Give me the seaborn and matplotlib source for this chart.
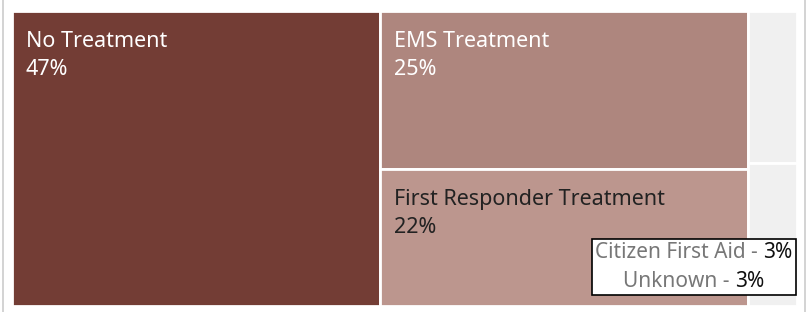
import matplotlib
matplotlib.use("Agg")
import matplotlib.pyplot as plt
import matplotlib.patches as mpatches
from matplotlib.offsetbox import TextArea, HPacker, VPacker, AnnotationBbox
from matplotlib.lines import Line2D
import seaborn as sns

# ── Data ──────────────────────────────────────────────────────────────────────
categories = ["No Treatment", "EMS Treatment", "First Responder Treatment",
              "Citizen First Aid", "Unknown"]
shares = [46.9, 25.1, 21.8, 3.2, 3.0]
labels_pct = ["47%", "25%", "22%", "3%", "3%"]
# treemap columns (indices into categories)
columns = [[0], [1, 2], [3, 4]]

COLORS = ["#733d35", "#ae867e", "#bc968e", "#f0f0f0", "#f0f0f0"]
TEXT_COLORS = ["white", "white", "#222222", None, None]
FS = 15.5
FS_BOX = 15

sns.set_theme(style="white")
plt.rcParams["font.family"] = ["Noto Sans", "DejaVu Sans"]

W, H, DPI = 807, 312, 100
fig = plt.figure(figsize=(W / DPI, H / DPI), dpi=DPI)
fig.patch.set_facecolor("white")

# thin grey frame lines at the sides
fig.add_artist(Line2D([3 / W, 3 / W], [0, 1], color="#cccccc", lw=1.2))
fig.add_artist(Line2D([805 / W, 805 / W], [0, 1], color="#cccccc", lw=1.2))

ax = fig.add_axes([12 / W, 6 / H, 785 / W, 295 / H])
ax.set_xlim(0, 1)
ax.set_ylim(0, 1)
ax.axis("off")

total = sum(shares)
x0 = 0.0
rects = {}
for col in columns:
    col_sum = sum(shares[i] for i in col)
    cw = col_sum / total
    ytop = 1.0
    for i in col:
        h = shares[i] / col_sum
        rects[i] = (x0, ytop - h, cw, h)
        ax.add_patch(mpatches.Rectangle((x0, ytop - h), cw, h,
                                        facecolor=COLORS[i], edgecolor="white",
                                        linewidth=2))
        ytop -= h
    x0 += cw

# labels inside the big cells
for i in range(3):
    x, y, w, h = rects[i]
    ax.annotate(categories[i], (x, y + h), xytext=(14, -36),
                textcoords="offset pixels", ha="left", va="baseline",
                fontsize=FS, color=TEXT_COLORS[i])
    ax.annotate(labels_pct[i], (x, y + h), xytext=(14, -64),
                textcoords="offset pixels", ha="left", va="baseline",
                fontsize=FS, color=TEXT_COLORS[i])

# callout box for the small categories
rows = []
for i in (3, 4):
    rows.append(HPacker(children=[
        TextArea(categories[i] + " - ", textprops=dict(color="#777777", fontsize=FS_BOX)),
        TextArea(labels_pct[i], textprops=dict(color="#111111", fontsize=FS_BOX)),
    ], align="baseline", pad=0, sep=0))
box = VPacker(children=rows, align="center", pad=0, sep=6)
ab = AnnotationBbox(box, (0.9945, 0.047), xycoords="axes fraction",
                    box_alignment=(1, 0), pad=0.2, frameon=True,
                    bboxprops=dict(facecolor="white", edgecolor="black",
                                   linewidth=1.2, boxstyle="square,pad=0.2"))
ax.add_artist(ab)

fig.savefig("out.png", dpi=DPI, facecolor="white")
